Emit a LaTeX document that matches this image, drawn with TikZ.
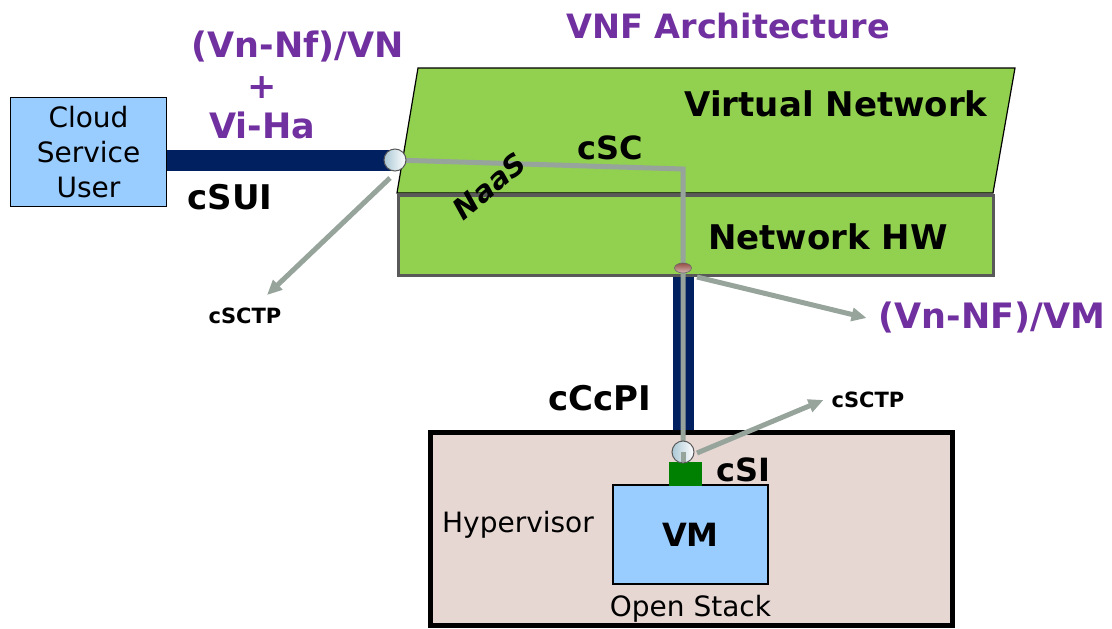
\documentclass[tikz,border=0pt]{standalone}
\usepackage{fontspec}
\setmainfont{DejaVu Sans}
\usetikzlibrary{arrows.meta,positioning,shapes.geometric}
\definecolor{csublue}{RGB}{153,204,255}
\definecolor{netgreen}{RGB}{146,208,80}
\definecolor{linknavy}{RGB}{0,32,96}
\definecolor{vnfpurple}{RGB}{112,48,160}
\definecolor{hypfill}{RGB}{231,215,211}
\definecolor{tpgray}{RGB}{150,164,155}
\definecolor{sigreen}{RGB}{0,128,0}
\definecolor{hwborder}{RGB}{89,89,89}
\definecolor{portblue}{RGB}{170,200,212}
\definecolor{portbrown}{RGB}{150,80,70}
\tikzset{
  blbl/.style={font=\fontsize{34}{38}\selectfont\bfseries, inner sep=0pt},
  plbl/.style={font=\fontsize{35}{40}\selectfont\bfseries, inner sep=0pt, text=vnfpurple},
  txt/.style={font=\fontsize{28}{35}\selectfont, inner sep=0pt, align=center},
  tplbl/.style={font=\fontsize{21}{25}\selectfont\bfseries, inner sep=0pt},
  tparrow/.style={draw=tpgray, line width=5pt, -{Triangle[length=15pt,width=13pt]}},
  pipe/.style={draw=linknavy, line width=21pt},
  gline/.style={draw=tpgray, line width=5pt},
  port/.style={circle, minimum size=22pt, inner sep=0pt, draw=black!65, line width=1pt,
    left color=portblue, right color=white},
}
\begin{document}
\begin{tikzpicture}[x=1pt,y=-1pt]
\useasboundingbox (0,0) rectangle (1112,629);
% hypervisor host
\node[draw=black, line width=5pt, fill=hypfill, minimum width=522pt, minimum height=193pt, inner sep=0pt] (hyp) at (691.5,529) {};
% network layers
\draw[fill=netgreen, line width=1.2pt] (418,68) -- (1015,68) -- (993,193) -- (397,193) -- cycle;
\node[draw=hwborder, line width=3pt, fill=netgreen, minimum width=595pt, minimum height=80pt, inner sep=0pt] (nhw) at (696,235.5) {};
% cloud service user
\node[draw=black, line width=1.5pt, fill=csublue, minimum width=156pt, minimum height=109pt, txt] (csu) at (88.5,152) {Cloud\\Service\\User};
\node[draw=black, line width=1.2pt, fill=csublue, minimum width=155pt, minimum height=99pt, inner sep=0pt] (vm) at (690.5,534.5) {};
\node[fill=sigreen, minimum width=33pt, minimum height=24pt, inner sep=0pt] (sisq) at (685.5,474) {};
\coordinate (cin) at (395,160);
\coordinate (csc) at (683,169);
\coordinate (nhwport) at (683,268);
\coordinate (sin) at (683,452);
% links
\draw[pipe] (csu.east |- cin) -- (cin);
\draw[pipe] (nhwport |- nhw.south) -- (nhwport |- hyp.north);
\draw[gline] (cin) -- (csc) -- (nhwport) -- (sisq.north -| sin);
\node[port] (cinport) at (cin) {};
\node[port] (sinport) at (sin) {};
\draw[gline] (sinport.center) -- (sisq.north -| sin);
\node[ellipse, minimum width=17pt, minimum height=10pt, inner sep=0pt, draw=black!60, line width=0.6pt,
  top color=portbrown, bottom color=portbrown!40!white] (hwport) at (nhwport) {};
% labels
\node[plbl, font=\fontsize{33.5}{38}\selectfont\bfseries] (title) at (728,26) {VNF Architecture};
\node[plbl] (vnlbl) at (298,47) {(Vn-Nf)/VN};
\node[plbl] (plus) at (262,88) {+};
\node[plbl] (viha) at (262,125) {Vi-Ha};
\node[plbl] (vmlbl) at (992,318) {(Vn-NF)/VM};
\node[blbl] at (836,104) {Virtual Network};
\node[blbl] at (828,237) {Network HW};
\node[blbl] (csui) at (230,197) {cSUI};
\node[blbl, font=\fontsize{32}{36}\selectfont\bfseries] (csclbl) at (610,148) {cSC};
\node[blbl, font=\fontsize{29}{34}\selectfont\bfseries\itshape, rotate=40] (naas) at (489,186) {NaaS};
\node[blbl] (ccpi) at (600,398) {cCcPI};
\node[blbl, font=\fontsize{32}{36}\selectfont\bfseries] (csi) at (743,470) {cSI};
\node[blbl, font=\fontsize{32}{36}\selectfont\bfseries] at (vm) {VM};
\node[txt] (hyplbl) at (518,525) {Hypervisor};
\node[txt, below=10pt of vm] (ostack) {Open Stack};
\node[tplbl] (tpl) at (245,316) {cSCTP};
\node[tplbl] (tpr) at (868,400) {cSCTP};
\coordinate (tplend) at (267,295);
% test points
\draw[tparrow] ([shift={(-5,18)}]cin) -- (tplend);
\draw[tparrow] ([shift={(14,9)}]nhwport) -- ([xshift=-12pt]vmlbl.west);
\draw[tparrow] ([shift={(14,1)}]sin) -- ([xshift=-8pt]tpr.west);
\end{tikzpicture}
\end{document}
